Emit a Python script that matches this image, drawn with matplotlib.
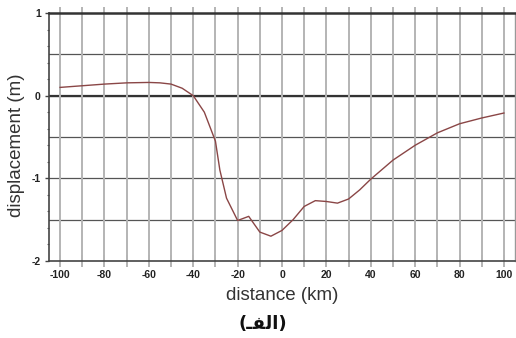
import numpy as np
import matplotlib
matplotlib.use('Agg')
import matplotlib.pyplot as plt
from matplotlib.ticker import MultipleLocator

plt.rcParams['font.family'] = ['Liberation Sans', 'DejaVu Sans']
plt.rcParams['axes.unicode_minus'] = False

# profil de déplacement le long de la coupe
distance_km = [-100, -90, -80, -70, -60, -55, -50, -45, -40, -35, -30, -28,
               -25, -20, -15, -10, -5, 0, 5, 10, 15, 20, 25, 30, 35, 40,
               50, 60, 70, 80, 90, 100]
displacement_m = [0.10, 0.12, 0.14, 0.155, 0.16, 0.155, 0.14, 0.09, 0.0,
                  -0.20, -0.55, -0.90, -1.24, -1.51, -1.46, -1.65, -1.70,
                  -1.63, -1.50, -1.34, -1.27, -1.28, -1.30, -1.25, -1.14,
                  -1.01, -0.78, -0.60, -0.45, -0.34, -0.27, -0.21]

y_major = [-2, -1, 0, 1]
caption = '(\u0640\uFED4\uFEDF\uFE8D)'   # (الفـ) en formes de présentation

fig = plt.figure(figsize=(5.16, 3.38), dpi=100)
ax = fig.add_axes([49 / 516, 1 - 261 / 338, 466 / 516, 248 / 338])

grid_v = '#b4b4b4'
ax.set_xlim(-105, 105)
ax.set_ylim(-2, 1)

# grille verticale tous les 10 km, prolongée hors du cadre par les ticks
ax.xaxis.set_major_locator(MultipleLocator(20))
ax.xaxis.set_minor_locator(MultipleLocator(10))
ax.grid(True, which='both', axis='x', color=grid_v, linewidth=1.4)
ax.tick_params(axis='x', which='both', direction='inout', length=8.6,
               width=1.4, color=grid_v, top=True, bottom=True,
               labelsize=7.5, pad=2.5, labelcolor='#222222')

# grille horizontale tous les 0.5 m
for yv in np.arange(-1.5, 1.0, 0.5):
    ax.axhline(yv, color='#555555', linewidth=0.9, zorder=1)
ax.axhline(0, color='#333333', linewidth=1.6, zorder=1)

ax.set_yticks(y_major)
ax.yaxis.set_minor_locator(MultipleLocator(0.2))
ax.tick_params(axis='y', which='major', direction='out', length=3,
               width=1, color='#444444', labelsize=7.5, pad=3,
               labelcolor='#222222')
ax.tick_params(axis='y', which='minor', direction='out', length=1.5,
               width=0.8, color='#666666')
for lab in ax.get_yticklabels() + ax.get_xticklabels():
    lab.set_fontweight('bold')

for side in ['left', 'bottom']:
    ax.spines[side].set_color('#444444')
    ax.spines[side].set_linewidth(1.2)
ax.spines['top'].set_color('#333333')
ax.spines['top'].set_linewidth(1.8)
ax.spines['right'].set_color('#999999')
ax.spines['right'].set_linewidth(1.0)

ax.plot(distance_km, displacement_m, color='#8a4646', linewidth=1.0, zorder=3)

ax.set_xlabel('distance (km)', fontsize=13.5, color='#333333', labelpad=5)
fig.text(17 / 516, 1 - 145 / 338, 'displacement (m)', rotation=90,
         ha='center', va='center', fontsize=13.5, color='#333333')

fig.text(263 / 516, 1 - 324 / 338, caption, ha='center', va='center',
         fontsize=13, fontweight='bold', family='DejaVu Sans', color='#111111')

fig.savefig('out.png', dpi=100)
